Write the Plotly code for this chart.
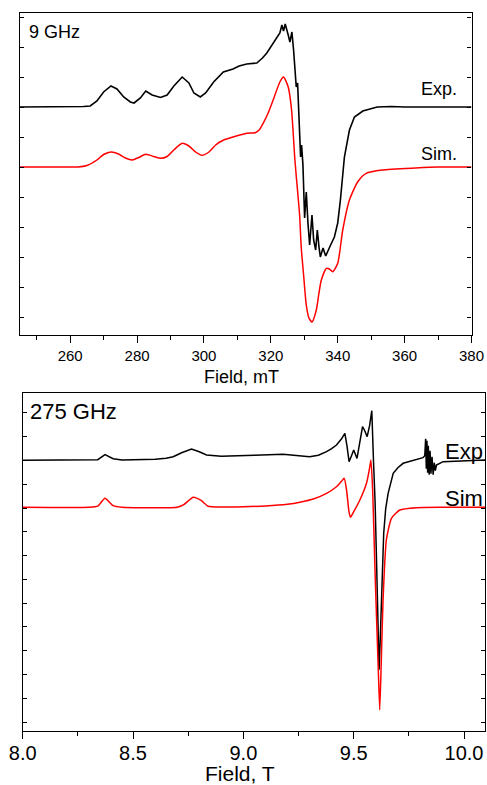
import plotly.graph_objects as go

# ---------------- 9 GHz (X-band) panel data ----------------
exp9_field = [245, 250, 255, 260, 264, 266, 268, 270, 272.2, 274, 276, 278, 279.1, 281, 282.6, 284.5,
              287, 289, 291, 293.5, 295.5, 297, 298.9, 300.5, 302.9, 305.8, 308.7, 310.5, 312.8, 315.8,
              317.5, 318.8, 320.5, 321.7, 322.7, 323.3, 323.8, 324.3, 324.8, 325.2, 325.7, 326.3, 326.8,
              327.2, 327.6, 328.0, 328.5, 328.9, 329.2, 329.6, 330.1, 330.6, 331.1, 331.6, 332.3, 332.8,
              333.4, 333.9, 334.4, 334.8, 335.6, 336.4, 337.6, 339.0, 340.0, 340.8, 342, 343.5, 345,
              347.5, 351.8, 356, 360, 365, 370, 375, 380]
exp9_int = [228, 228, 228, 228, 228.5, 229, 234, 243, 249, 246, 238, 233, 232, 237, 244, 240,
            237.5, 240, 249, 258, 252, 242, 238, 242, 253, 263, 266, 269, 271, 272,
            277, 282, 291, 298, 302, 310, 304, 311, 306, 300, 293, 303, 285,
            268, 248, 252, 212, 178, 190, 170, 117, 143, 112, 90, 120, 95,
            85, 105, 88, 78, 87, 79, 88, 98, 112, 135, 178, 205, 218,
            224, 228, 228.5, 228, 228, 228, 228, 228]

sim9_field = [245, 255, 260, 262.3, 265, 268, 270, 272.2, 274.5, 276.5, 278.6, 280.5, 282.6, 285,
              287, 289, 291, 293.5, 295.5, 297.5, 299.4, 301.5, 303.5, 305.9, 308.7, 312.8, 315.3,
              316.5, 317.7, 319.2, 320.7, 322.7, 323.8, 325.2, 326.2, 327.2, 328.1, 328.6, 329.1,
              329.8, 330.6, 331.4, 332.3, 333.6, 334.3, 335.1, 336.6, 337.5, 338.5, 340, 341.5, 343.5,
              346, 348.5, 353.3, 363.3, 370, 380]
sim9_int = [168, 168, 168, 168, 169.5, 175, 180.5, 183, 181, 177, 175, 177.5, 180.7, 178.5,
            176.7, 178.5, 185, 191.7, 189, 183, 179.7, 183, 190, 195, 198, 201.7, 202.3,
            205, 211.7, 222, 235, 253, 258, 248, 225, 175, 140, 120, 87,
            60, 30, 17, 13, 25, 40, 55, 66.7, 66, 63.3, 71.7, 105, 135,
            153.3, 161.7, 165, 167, 168, 168]

# ---------------- 275 GHz panel data ----------------
exp275_field = [8.0, 8.1, 8.2, 8.3, 8.34, 8.373, 8.41, 8.45, 8.53, 8.6, 8.65, 8.682, 8.72, 8.765,
                8.80, 8.833, 8.9, 8.954, 9.05, 9.18, 9.25, 9.30, 9.34, 9.377, 9.40, 9.422, 9.445,
                9.46, 9.47, 9.479, 9.49, 9.50, 9.515, 9.53, 9.54, 9.55, 9.561, 9.572, 9.582, 9.59,
                9.597, 9.604, 9.61, 9.615, 9.62, 9.626, 9.636, 9.645, 9.656, 9.679, 9.70, 9.724,
                9.784, 9.814, 9.822, 9.826, 9.829, 9.832, 9.835, 9.838, 9.842, 9.846, 9.85, 9.855,
                9.86, 9.865, 9.87, 9.875, 9.905, 9.95, 9.996, 10.05, 10.095]
exp275_int = [270.5, 270.5, 270.7, 270.5, 271, 276, 272, 270.7, 271, 271.5, 272.5, 274, 278, 281.7,
              279, 275.7, 274.5, 274.7, 275.5, 276.4, 275, 274, 275.5, 279, 282, 285.7, 292,
              297.3, 284, 269, 275, 280.7, 272.3, 290, 304, 300, 294, 305, 320, 268,
              228, 165, 100, 61, 90, 130.7, 197.4, 222, 237.4, 257.4, 263, 267.4,
              270.7, 273, 275, 292, 262, 290, 258, 285, 256, 280, 257, 274,
              256, 268, 260, 265.7, 269, 269.5, 269.7, 270.3, 270.7]

sim275_field = [8.0, 8.3, 8.34, 8.373, 8.41, 8.45, 8.70, 8.73, 8.773, 8.81, 8.84, 8.9, 9.0, 9.1,
                9.2, 9.256, 9.32, 9.377, 9.422, 9.445, 9.457, 9.468, 9.478, 9.485, 9.50, 9.528,
                9.558, 9.57, 9.578, 9.586, 9.596, 9.604, 9.611, 9.618, 9.625, 9.633, 9.648, 9.671,
                9.709, 9.784, 9.9, 10.095]
sim275_int = [223.4, 223.4, 224.5, 232.4, 225, 223.4, 223.4, 226, 233.4, 230, 224.5, 223.6, 224, 224.8,
              226.5, 228.5, 232, 237.4, 244, 249.5, 252.4, 240, 220, 213.4, 219, 230.7,
              247.4, 260, 270.7, 240, 164, 110, 64, 20.7, 70, 130.7, 190.7, 212.4,
              220.7, 223, 223.4, 223.4]

FONT = "Liberation Sans, Arial, sans-serif"

fig = go.Figure()
fig.add_trace(go.Scatter(x=exp9_field, y=exp9_int, mode="lines",
                         line=dict(color="black", width=1.6), xaxis="x", yaxis="y"))
fig.add_trace(go.Scatter(x=sim9_field, y=sim9_int, mode="lines",
                         line=dict(color="#ff0000", width=1.5, shape="spline", smoothing=0.6),
                         xaxis="x", yaxis="y"))
fig.add_trace(go.Scatter(x=exp275_field, y=exp275_int, mode="lines",
                         line=dict(color="black", width=1.5), xaxis="x2", yaxis="y2"))
fig.add_trace(go.Scatter(x=sim275_field, y=sim275_int, mode="lines",
                         line=dict(color="#ff0000", width=1.5, shape="spline", smoothing=0.5),
                         xaxis="x2", yaxis="y2"))

W, H = 487, 785
top_x = [20 / W, 471.5 / W]
top_y = [1 - 335 / H, 1 - 12.7 / H]
bot_x = [22.7 / W, 485 / W]
bot_y = [1 - 730.7 / H, 1 - 393 / H]

axline = dict(showline=True, linecolor="black", linewidth=1.3, showgrid=False, zeroline=False,
              automargin=False)

fig.update_layout(
    width=W, height=H, margin=dict(l=0, r=0, t=0, b=0, autoexpand=False),
    paper_bgcolor="white", plot_bgcolor="white", showlegend=False,
    font=dict(family=FONT, color="black"),
    xaxis=dict(domain=top_x, anchor="y", range=[245, 380], mirror=True,
               ticks="outside", ticklen=7, tickwidth=1.3, tickcolor="black",
               tick0=260, dtick=20, tickfont=dict(size=15),
               minor=dict(ticks="outside", ticklen=4, tickwidth=1.3, tickcolor="black", dtick=10, tick0=250),
               **axline),
    yaxis=dict(domain=top_y, anchor="x", range=[0, 322.3], mirror="ticks",
               ticks="inside", ticklen=4, tickwidth=1.2, tickcolor="black",
               tick0=18, dtick=30, showticklabels=False, **axline),
    xaxis3=dict(domain=top_x, anchor="y", overlaying="x", side="top", range=[245, 380],
                ticks="inside", ticklen=3, tickwidth=1.2, tickcolor="black", tick0=250, dtick=10,
                showticklabels=False, showline=False, showgrid=False, zeroline=False, automargin=False),
    xaxis2=dict(domain=bot_x, anchor="y2", range=[8.0, 10.095], mirror=True,
                ticks="outside", ticklen=7, tickwidth=1.3, tickcolor="black",
                tick0=8.0, dtick=0.5, tickformat=".1f", tickfont=dict(size=20),
                ticklabelstandoff=-3,
                minor=dict(ticks="outside", ticklen=4, tickwidth=1.3, tickcolor="black", dtick=0.25, tick0=8.0),
                **axline),
    yaxis2=dict(domain=bot_y, anchor="x2", range=[0, 337.7], mirror="ticks",
                ticks="inside", ticklen=4, tickwidth=1.2, tickcolor="black",
                tick0=8.7, dtick=23.77, showticklabels=False, **axline),
    xaxis4=dict(domain=bot_x, anchor="y2", overlaying="x2", side="top", range=[8.0, 10.095],
                ticks="inside", ticklen=3, tickwidth=1.2, tickcolor="black", tick0=8.0, dtick=0.25,
                showticklabels=False, showline=False, showgrid=False, zeroline=False, automargin=False),
)

ann = [
    dict(text="9 GHz", xref="x domain", yref="y domain", x=0.0155, y=0.94, size=18, xa="left"),
    dict(text="Exp.", xref="x domain", yref="y domain", x=0.972, y=0.763, size=18, xa="right"),
    dict(text="Sim.", xref="x domain", yref="y domain", x=0.972, y=0.562, size=18, xa="right"),
    dict(text="275 GHz", xref="x2 domain", yref="y2 domain", x=0.0115, y=0.945, size=22, xa="left"),
    dict(text="Exp", xref="x2 domain", yref="y2 domain", x=0.999, y=0.826, size=22, xa="right"),
    dict(text="Sim", xref="x2 domain", yref="y2 domain", x=0.999, y=0.688, size=22, xa="right"),
    dict(text="Field, mT", xref="paper", yref="paper", x=241.7 / W, y=1 - 377 / H, size=18, xa="center"),
    dict(text="Field, T", xref="paper", yref="paper", x=239.5 / W, y=1 - 773 / H, size=21, xa="center"),
]
for a in ann:
    fig.add_annotation(text=a["text"], xref=a["xref"], yref=a["yref"], x=a["x"], y=a["y"],
                       xanchor=a["xa"], yanchor="middle", showarrow=False,
                       font=dict(size=a["size"], family=FONT, color="black"))

fig.write_html("out.html", config={"displayModeBar": False},
               post_script="document.body.style.margin='0';")
